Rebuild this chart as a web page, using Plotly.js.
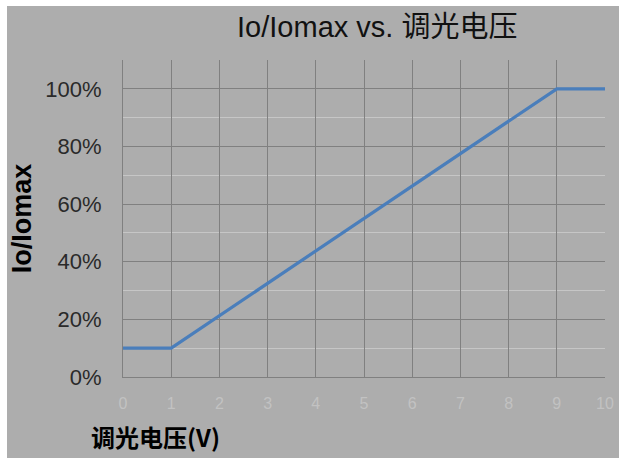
<!DOCTYPE html>
<html>
<head>
<meta charset="utf-8">
<script src="https://cdn.plot.ly/plotly-3.0.1.min.js"></script>
<style>
html,body{margin:0;padding:0;background:#ffffff;}
#chart{position:absolute;left:7px;top:6px;width:612px;height:452px;}
</style>
</head>
<body>
<div id="chart"></div>
<script>
// Data
const voltage = [0, 1, 9, 10];            // 调光电压 (V)
const ratio = [0.10, 0.10, 1.00, 1.00];   // Io/Iomax
const xTickVals = [0,1,2,3,4,5,6,7,8,9,10];
const xTickText = ['0','1','2','3','4','5','6','7','8','9','10'];
const yTickVals = [0,0.2,0.4,0.6,0.8,1.0];
const yTickText = ['0%','20%','40%','60%','80%','100%'];

const bg = '#adadad';
const trace = {
  x: voltage, y: ratio, type: 'scatter', mode: 'lines',
  line: {color: '#4a7ebb', width: 3.2},
  hoverinfo: 'skip'
};
const layout = {
  width: 612, height: 452,
  paper_bgcolor: bg, plot_bgcolor: bg,
  margin: {l: 116, r: 14, t: 54, b: 81},
  showlegend: false,
  font: {family: 'Liberation Sans, Arial, sans-serif'},
  title: {
    text: 'Io/Iomax vs. 调光电压',
    font: {family: 'Liberation Sans, Noto Sans CJK SC, sans-serif', size: 29, color: '#111'},
    x: 0.605, xanchor: 'center', y: 0.953, yanchor: 'middle'
  },
  xaxis: {
    range: [0, 10], tickvals: xTickVals, ticktext: xTickText,
    showgrid: true, gridcolor: '#808080', gridwidth: 1,
    showline: true, linecolor: '#808080', linewidth: 1,
    zeroline: false, ticks: '',
    ticklabelstandoff: 12,
    tickfont: {size: 16, color: '#c2c2c2'}
  },
  yaxis: {
    range: [0, 1.1], tickvals: yTickVals, ticktext: yTickText,
    showgrid: true, gridcolor: '#808080', gridwidth: 1,
    showline: true, linecolor: '#808080', linewidth: 1,
    zeroline: false, ticks: '',
    ticklabelstandoff: 16,
    tickfont: {size: 22, color: '#2a2a2a'},
    minor: {dtick: 0.1, showgrid: true, gridcolor: '#c6c6c6', gridwidth: 1, ticks: ''},
    title: {text: 'Io/Iomax', font: {size: 27, color: '#000', weight: 'bold'}, standoff: 8}
  },
  annotations: [{
    text: '<b>调光电压(V)</b>', xref: 'paper', yref: 'paper',
    x: -0.07, y: -0.25, xanchor: 'left', yanchor: 'bottom', showarrow: false,
    font: {family: 'Noto Sans CJK SC, sans-serif', size: 24, color: '#000'}
  }]
};
Plotly.newPlot('chart', [trace], layout, {displayModeBar: false, staticPlot: true});
</script>
</body>
</html>
